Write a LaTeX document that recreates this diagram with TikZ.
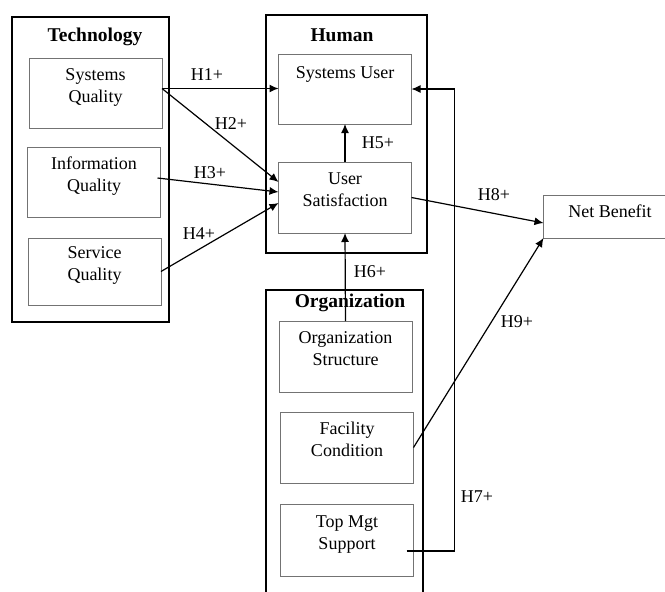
\documentclass[tikz,border=0pt]{standalone}
\usepackage{fontspec}
\setmainfont{Liberation Serif}
\usepackage{tikz}
\usetikzlibrary{arrows.meta,positioning,calc}
\newcommand{\boxtext}[2][6pt]{\raisebox{#1}[\height][\depth]{\begin{tabular}{@{}c@{}}#2\end{tabular}}}

\begin{document}
\begin{tikzpicture}[x=1pt, y=-1pt,
  every node/.style={font=\fontsize{18}{22}\selectfont, inner sep=0pt, outer sep=0pt},
  frame/.style={draw, line width=1.3pt},
  item/.style={draw=black!55, line width=1pt, minimum width=133pt, minimum height=70pt},
  title/.style={anchor=base, font=\fontsize{19.5}{22}\selectfont\bfseries},
  hyp/.style={anchor=base},
  link/.style={-{Latex[length=9pt,width=8pt]}, line width=1.2pt}]
\useasboundingbox (0,0) rectangle (665,592);
\clip (0,0) rectangle (665,592);
\fill[white] (0,0) rectangle (665,592);

% groups
\node[frame, minimum width=157pt, minimum height=305pt] (tech) at (90.5,169.5) {};
\node[frame, minimum width=161pt, minimum height=238pt] (human) at (346.5,134) {};
\node[frame, minimum width=157pt, minimum height=330pt] (org) at (344.5,455) {};
\node[title] (techT) at (95,41) {Technology};
\node[title] (humanT) at (342,41) {Human};
\node[title] (orgT) at (350,307) {Organization};

% technology
\node[item] (sq) at (95.5,93.5) {\boxtext{Systems\\Quality}};
\node[item] (iq) at (94,182.5) {\boxtext{Information\\Quality}};
\node[item, minimum height=67pt] (sv) at (94.5,271.5) {\boxtext{Service\\Quality}};
% human
\node[item] (su) at (345,89) {\boxtext[15pt]{Systems User}};
\node[item, minimum height=71pt] (us) at (345,197.5) {\boxtext{User\\Satisfaction}};
% organization
\node[item, minimum height=71pt] (os) at (345.5,356.5) {\boxtext{Organization\\Structure}};
\node[item, minimum height=71pt] (fc) at (347,447.5) {\boxtext{Facility\\Condition}};
\node[item, minimum height=72pt] (tm) at (347,540) {\boxtext{Top Mgt\\Support}};
% outcome
\node[item, minimum height=43pt] (nb) at (610,216.5) {\boxtext[3pt]{Net Benefit}};

% hypotheses
\coordinate (sqout) at ($(sq.east)+(0,-5)$);
\draw[link] (sqout) -- (sqout -| su.west);
\draw[link] (sqout) -- ($(us.west)+(0,-15.5)$);
\draw[link] ($(iq.east)+(-3,-4.5)$) -- ($(us.west)+(0,-5.5)$);
\draw[link] (sv.east) -- ($(us.west)+(0,5.5)$);
\draw[link] (us.north) -- (su.south);
\draw[link] (os.north) -- (us.south);
\draw[link] ($(tm.east)+(-7,11)$) -| ($(su.east)+(43,0)$) -- (su.east);
\draw[link] (us.east) -- ($(nb.west)+(0,6.5)$);
\draw[link] (fc.east) -- (nb.south west);

\node[hyp] (h1) at (207,80) {H1+};
\node[hyp] (h2) at (231,129) {H2+};
\node[hyp] (h3) at (210,178) {H3+};
\node[hyp] (h4) at (199,239) {H4+};
\node[hyp] (h5) at (378,148) {H5+};
\node[hyp] (h6) at (370,277) {H6+};
\node[hyp] (h7) at (477,502) {H7+};
\node[hyp] (h8) at (494,200) {H8+};
\node[hyp] (h9) at (517,327) {H9+};
\end{tikzpicture}
\end{document}
